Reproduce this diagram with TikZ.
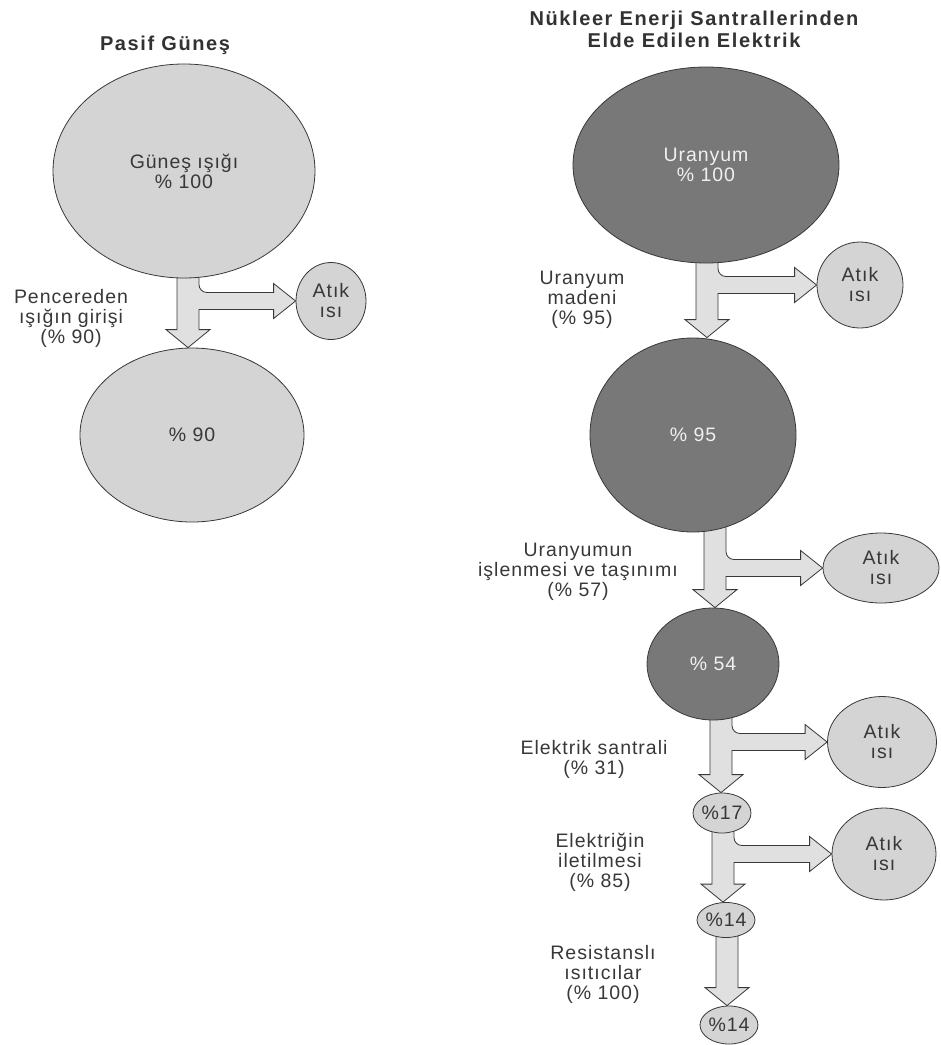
\documentclass[tikz,border=0pt]{standalone}
\usepackage{fontspec}
\setmainfont{Liberation Sans}[LetterSpace=5]
\newfontfamily\headfamily{Liberation Sans}[LetterSpace=8]
\usetikzlibrary{shapes.geometric,calc,backgrounds}

\definecolor{lightdisc}{gray}{0.83}
\definecolor{darkdisc}{gray}{0.47}
\definecolor{arrowfill}{gray}{0.88}
\definecolor{inkgray}{gray}{0.22}

\newcommand\bodysize{\fontsize{19.5}{20}\selectfont}
\newcommand\headsize{\headfamily\fontsize{20}{22}\selectfont\bfseries}

% T-shaped flow arrow: down from #1 to #2, side branch into #3, shaft centred at x = #4
\newcommand\teeflow[4]{%
  \filldraw[flowarrow] let \p1=(#1.center), \p2=(#3.west), \p3=(#2.north) in
    (#4pt-11pt,\y1) -- (#4pt-11pt,\y3+18pt) -- (#4pt-22pt,\y3+18pt) -- (#4pt,\y3)
    -- (#4pt+22pt,\y3+18pt) -- (#4pt+11pt,\y3+18pt) -- (#4pt+11pt,\y2-8.5pt)
    -- (\x2-22pt,\y2-8.5pt) -- (\x2-22pt,\y2-17.5pt) -- (\p2) -- (\x2-22pt,\y2+17.5pt)
    -- (\x2-22pt,\y2+8.5pt) [rounded corners=8pt] -- (#4pt+11pt,\y2+8.5pt)
    -- (#4pt+11pt,\y1) [sharp corners] -- cycle;}

% straight flow arrow from #1 down to #2, shaft centred at x = #3
\newcommand\plainflow[3]{%
  \filldraw[flowarrow] let \p1=(#1.center), \p3=(#2.north) in
    (#3pt-11pt,\y1) -- (#3pt-11pt,\y3+18pt) -- (#3pt-22pt,\y3+18pt) -- (#3pt,\y3)
    -- (#3pt+22pt,\y3+18pt) -- (#3pt+11pt,\y3+18pt) -- (#3pt+11pt,\y1) -- cycle;}

\tikzset{
  disc/.style={ellipse, draw=inkgray, line width=0.8pt, inner sep=0pt,
    align=center, font=\bodysize},
  pale/.style={disc, fill=lightdisc, text=inkgray},
  deep/.style={disc, fill=darkdisc, text=white!94!black},
  caption/.style={align=center, text=inkgray, font=\bodysize, inner sep=0pt},
  heading/.style={align=center, text=inkgray!90!black, font=\headsize, inner sep=0pt},
  flowarrow/.style={fill=arrowfill, draw=inkgray, line width=0.8pt, line join=miter},
}

\begin{document}
\begin{tikzpicture}[x=1pt, y=1pt]
\useasboundingbox (0,0) rectangle (941,-1045);

% headings
\node[heading] (hl) at (165,-45) {Pasif Güneş};
\node[heading] (hr) at (694,-29) {Nükleer Enerji Santrallerinden\\Elde Edilen Elektrik};

% passive solar chain
\node[pale, minimum width=262pt, minimum height=214pt] (sun) at (184,-171) {Güneş ışığı\\\% 100};
\node[pale, minimum width=70pt, minimum height=77pt] (wL) at (331,-301) {Atık\\ısı};
\node[pale, minimum width=224pt, minimum height=174pt] (win) at (192,-435) {\% 90};
\node[caption] (cL) at (71,-318) {Pencereden\\ışığın girişi\\(\% 90)};

% nuclear chain
\node[deep, minimum width=266pt, minimum height=196pt] (u100) at (706,-165) {Uranyum\\\% 100};
\node[pale, minimum width=86pt, minimum height=86pt] (w1) at (860,-285) {Atık\\ısı};
\node[deep, minimum width=206pt, minimum height=194pt] (u95) at (693,-435) {\% 95};
\node[pale, minimum width=116pt, minimum height=70pt] (w2) at (881,-568) {Atık\\ısı};
\node[deep, minimum width=132pt, minimum height=112pt] (u54) at (713,-664) {\% 54};
\node[pale, minimum width=109pt, minimum height=91pt] (w3) at (882,-742) {Atık\\ısı};
\node[pale, minimum width=51pt, minimum height=40pt] (u17) at (722,-813) {\%17};
\node[pale, minimum width=104pt, minimum height=92pt] (w4) at (884,-854) {Atık\\ısı};
\node[pale, minimum width=48pt, minimum height=35pt] (u14a) at (726,-920) {\%14};
\node[pale, minimum width=48pt, minimum height=38pt] (u14b) at (729,-1025) {\%14};

\node[caption] (c1) at (582,-300) {Uranyum\\madeni\\(\% 95)};
\node[caption] (c2) at (578,-572) {Uranyumun\\işlenmesi ve taşınımı\\(\% 57)};
\node[caption] (c3) at (594,-759) {Elektrik santrali\\(\% 31)};
\node[caption] (c4) at (600,-862) {Elektriğin\\iletilmesi\\(\% 85)};
\node[caption] (c5) at (603,-974) {Resistanslı\\ısıtıcılar\\(\% 100)};

% flow arrows behind the discs
\begin{pgfonlayer}{background}
  \teeflow{sun}{win}{wL}{188}
  \teeflow{u100}{u95}{w1}{707}
  \teeflow{u95}{u54}{w2}{715}
  \teeflow{u54}{u17}{w3}{721}
  \teeflow{u17}{u14a}{w4}{723}
  \plainflow{u14a}{u14b}{727}
\end{pgfonlayer}
\end{tikzpicture}
\end{document}
